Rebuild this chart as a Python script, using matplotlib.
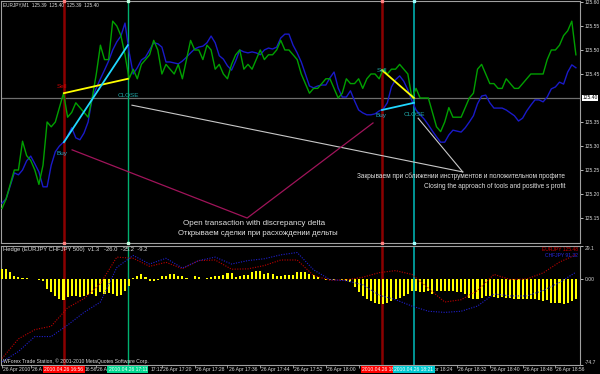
import numpy as np
import matplotlib
matplotlib.use('Agg')
import matplotlib.pyplot as plt
from matplotlib import transforms

plt.rcParams['font.family'] = ['Liberation Sans', 'DejaVu Sans']

# ---------------- data ----------------
eurjpy = [125.17, 125.19, 125.22, 125.25, 125.25, 125.31, 125.28, 125.27, 125.25, 125.22,
          125.26, 125.35, 125.34, 125.35, 125.38, 125.41, 125.36, 125.37, 125.39, 125.38,
          125.37, 125.36, 125.40, 125.45, 125.51, 125.48, 125.48, 125.56, 125.55, 125.53,
          125.49, 125.44, 125.46, 125.44, 125.47, 125.48, 125.49, 125.52, 125.50, 125.45,
          125.47, 125.46, 125.45, 125.47, 125.44, 125.48, 125.52, 125.50, 125.50, 125.48,
          125.51, 125.50, 125.46, 125.47, 125.45, 125.44, 125.47, 125.49, 125.50, 125.46,
          125.47, 125.46, 125.48, 125.50, 125.48, 125.49, 125.49, 125.50, 125.52, 125.50,
          125.50, 125.49, 125.48, 125.45, 125.43, 125.41, 125.42, 125.42, 125.43, 125.44,
          125.44, 125.42, 125.40, 125.41, 125.44, 125.43, 125.43, 125.44, 125.42, 125.44,
          125.45, 125.45, 125.44, 125.46, 125.45, 125.46, 125.46, 125.47, 125.46, 125.45,
          125.40, 125.42, 125.40, 125.40, 125.40, 125.37, 125.34, 125.33, 125.35, 125.38,
          125.36, 125.36, 125.36, 125.38, 125.40, 125.41, 125.46, 125.47, 125.45, 125.43,
          125.43, 125.42, 125.42, 125.44, 125.43, 125.42, 125.42, 125.43, 125.44, 125.45,
          125.45, 125.45, 125.45, 125.48, 125.50, 125.50, 125.51, 125.53, 125.54, 125.56,
          125.49]

chfjpy_scaled = [125.181, 125.190, 125.217, 125.244, 125.240, 125.250, 125.269, 125.279, 125.263, 125.246,
                 125.215, 125.215, 125.260, 125.288, 125.300, 125.308, 125.321, 125.338, 125.317, 125.313,
                 125.327, 125.350, 125.400, 125.421, 125.440, 125.458, 125.477, 125.500, 125.517, 125.529,
                 125.556, 125.496, 125.450, 125.463, 125.479, 125.485, 125.500, 125.515, 125.513, 125.506,
                 125.475, 125.475, 125.473, 125.471, 125.477, 125.485, 125.494, 125.502, 125.506, 125.508,
                 125.515, 125.529, 125.515, 125.488, 125.481, 125.467, 125.458, 125.477, 125.500, 125.496,
                 125.494, 125.496, 125.494, 125.490, 125.500, 125.504, 125.502, 125.506, 125.525, 125.533,
                 125.533, 125.510, 125.494, 125.475, 125.450, 125.425, 125.421, 125.425, 125.427, 125.427,
                 125.442, 125.454, 125.421, 125.402, 125.402, 125.415, 125.394, 125.375, 125.369, 125.365,
                 125.365, 125.367, 125.373, 125.377, 125.390, 125.423, 125.438, 125.446, 125.435, 125.417,
                 125.394, 125.375, 125.365, 125.356, 125.344, 125.331, 125.319, 125.308, 125.308, 125.323,
                 125.333, 125.331, 125.329, 125.338, 125.350, 125.363, 125.388, 125.404, 125.406, 125.390,
                 125.379, 125.379, 125.379, 125.375, 125.369, 125.363, 125.352, 125.358, 125.373, 125.385,
                 125.396, 125.396, 125.392, 125.402, 125.419, 125.423, 125.433, 125.429, 125.454, 125.469,
                 125.463]

hedge_hist = [8.8, 8.5, 5.9, 2.9, 1.5, 0.6, 0.6, 0.3, 0.0, -1.0,
              -1.5, -8.8, -11.0, -14.7, -17.6, -18.2, -15.3, -14.7, -14.7, -15.3,
              -14.7, -14.1, -13.2, -14.7, -11.7, -13.2, -12.3, -13.2, -14.7, -14.1,
              -10.3, -6.5, 0.6, 2.9, 4.4, 2.0, -1.5, -1.5, -0.6, 2.3,
              2.9, 4.4, 4.4, 2.9, 2.3, 0.6, 0.0, 2.9, 1.5, 0.3,
              0.6, 1.5, 2.9, 2.9, 3.5, 5.3, 5.3, 2.0, 2.3, 3.5,
              3.5, 5.9, 7.3, 7.3, 4.4, 5.3, 4.4, 2.9, 2.3, 3.5,
              3.5, 3.5, 5.9, 5.9, 5.9, 4.4, 3.5, 1.5, 0.0, -0.8,
              -0.8, -0.6, 0.0, -0.8, -1.5, -2.9, -7.0, -11.7, -14.7, -17.6,
              -19.1, -20.5, -22.0, -22.0, -20.5, -19.1, -17.6, -16.1, -14.7, -13.2,
              -10.3, -10.3, -11.7, -11.7, -10.3, -13.2, -10.3, -10.3, -10.3, -10.3,
              -10.3, -11.1, -11.7, -13.2, -16.1, -17.6, -17.6, -16.1, -14.7, -14.7,
              -15.3, -16.1, -15.3, -16.1, -16.1, -17.0, -17.6, -17.6, -17.6, -17.6,
              -17.6, -18.2, -19.1, -18.2, -20.5, -20.5, -20.5, -22.0, -20.5, -19.1,
              -17.6]

dot_minutes = list(range(0, 141, 4))
eur_norm = [-69, -52, -44, -41, -25, -17, -4, 19, 18, 11, 14.5, 9, 16, 16.5, 8.5, 8.8, 11.7, 16.5,
            16.5, 3, -1, -0.8, 1.5, 5.5, 7.3, 4, -8, -20, -18, -10, 4, -0.5, 0, 5.3, 14.7, 21]
chf_norm = [-72, -63, -50, -50, -40, -29, -20, 10, 20.5, 13, 18, 9.5, 16, 19, 13, 16, 17.6, 21,
            23, 8, -0.5, -1.5, -5, -14, -18, -23.5, -28, -29, -28, -23.5, -13, -14.7, -14.7, -10, -3, 5.9]

# trade events (minute index from 16:41)
event_times = [15.1, 30.7, 92.7, 100.5]
event_colors = ['#8B0000', '#00B070', '#8B0000', '#00A0A0']
event_widths = [1.8, 1.0, 1.8, 1.3]
event_marker_colors = ['#FF8080', '#C0FFE0', '#FF8080', '#A0FFFF']
box_pos = [15.1, 30.7, 87.9, 100.5]
box_ha = ['center', 'center', 'left', 'center']
box_text = ['2010.04.26 16:56', '2010.04.26 17:11', '2010.04.26 18', '2010.04.26 18:21']
box_colors = ['#FF0000', '#00D890', '#FF0000', '#00C8D0']
sell_lines = [(15.1, 125.41, 30.7, 125.44), (92.7, 125.458, 100.5, 125.40)]
buy_lines = [(15.1, 125.308, 30.7, 125.51), (92.7, 125.375, 100.5, 125.39)]
grey_lines = [[(31.7, 125.385), (112.4, 125.246)], [(101.5, 125.358), (112.4, 125.246)]]
magenta_line = [(17.1, 125.292), (59.8, 125.150), (90.5, 125.348)]

bid = 125.40
price_ticks = [125.15, 125.20, 125.25, 125.30, 125.35, 125.45, 125.50, 125.55, 125.60]
time_tick_pos = [0, 7, 15, 23, 31, 39, 47, 55, 63, 71, 79, 87, 95, 103, 111, 119, 127, 135]
time_label_pos = [0, 7, 20.0, 23, 35.9, 39, 47, 55, 63, 71, 79, 105.1, 111, 119, 127, 135]
time_labels = ['26 Apr 2010', '26 A', '16:56', '26 A', '17:12',
               '26 Apr 17:20', '26 Apr 17:28', '26 Apr 17:36', '26 Apr 17:44', '26 Apr 17:52',
               '26 Apr 18:00', 'pr 18:24', '26 Apr 18:32',
               '26 Apr 18:40', '26 Apr 18:48', '26 Apr 18:56']

# ---------------- figure ----------------
W, H = 600, 374
fig = plt.figure(figsize=(6, 3.74), dpi=100, facecolor='black')


def box(x0, y0, x1, y1):
    return [x0 / W, 1 - y1 / H, (x1 - x0) / W, (y1 - y0) / H]


def ftext(x, y, s, **kw):
    kw.setdefault('fontsize', 4.2)
    kw.setdefault('color', '#E0E0E0')
    kw.setdefault('va', 'center')
    return fig.text(x / W, 1 - y / H, s, **kw)


ax = fig.add_axes(box(1, 1, 580, 243), facecolor='black')
ai = fig.add_axes(box(1, 245.5, 580, 365), facecolor='black')

t = np.arange(len(eurjpy))
for a in (ax, ai):
    a.set_xlim(-0.25, 141)
    for s in a.spines.values():
        s.set_color('#A0A0A0')
        s.set_linewidth(0.8)

# main panel
ax.axhline(bid, color='#6E6E6E', lw=0.9, zorder=1)
ax.plot(t, chfjpy_scaled, color='#1A1AC8', lw=1.0, zorder=3)
ax.plot(t, eurjpy, color='#00A000', lw=1.0, zorder=4)
ax.set_ylim(125.098, 125.602)
ax.yaxis.tick_right()
ax.set_yticks(price_ticks)
ax.set_yticklabels(['%.2f' % p for p in price_ticks])
ax.tick_params(axis='y', labelsize=3.6, colors='#D8D8D8', length=2, width=0.6, pad=1.5)
ax.set_xticks([])
ax.text(1.004, bid, '%.2f' % bid, transform=transforms.blended_transform_factory(ax.transAxes, ax.transData),
        fontsize=3.6, color='black', va='center', ha='left',
        bbox=dict(boxstyle='square,pad=0.15', fc='white', ec='none'))

# annotation trend lines
for gl in grey_lines:
    ax.plot([p[0] for p in gl], [p[1] for p in gl], color='#C8C8C8', lw=0.8, zorder=5)
ax.plot([p[0] for p in magenta_line], [p[1] for p in magenta_line], color='#A0145A', lw=0.9, zorder=5)
for (x0, y0, x1, y1) in sell_lines:
    ax.plot([x0, x1], [y0, y1], color='#FFFF00', lw=1.3, zorder=6)
for (x0, y0, x1, y1) in buy_lines:
    ax.plot([x0, x1], [y0, y1], color='#20D8FF', lw=1.3, zorder=6)

# event verticals
top_tr = transforms.blended_transform_factory(ax.transData, ax.transAxes)
for ev, c, lw, mc in zip(event_times, event_colors, event_widths, event_marker_colors):
    ax.axvline(ev, color=c, lw=lw, zorder=2)
    ai.axvline(ev, color=c, lw=lw, zorder=2)
    ax.plot([ev, ev], [1.0, 0.0], ls='none', marker='s', ms=2, mfc=mc, mec=mc,
            transform=top_tr, clip_on=False, zorder=8)

# indicator panel
ai.bar(t, hedge_hist, width=0.5, color='#FFFF00', zorder=3)
ai.plot(dot_minutes, eur_norm, color='#C00000', lw=0.8, ls=(0, (1, 1.3)), zorder=4)
ai.plot(dot_minutes, chf_norm, color='#2020D0', lw=0.8, ls=(0, (1, 1.3)), zorder=4)
ai.set_ylim(-74.7, 29.1)
ai.yaxis.tick_right()
ai.set_yticks([29.1, 0.0, -74.7])
ai.set_yticklabels(['29.1', '0.00', '-74.7'])
ai.tick_params(axis='y', labelsize=3.6, colors='#D8D8D8', length=2, width=0.6, pad=1.5)
ylabs = ai.get_yticklabels()
ylabs[0].set_va('top')
ylabs[2].set_va('bottom')
ai.set_xticks(time_tick_pos)
ai.set_xticklabels([])
ai.tick_params(axis='x', colors='#B0B0B0', length=2, width=0.6)

# time labels and boxes on the axis
bt = transforms.blended_transform_factory(ai.transData, fig.transFigure)
yl = 1 - 369.5 / H
for p, s in zip(time_label_pos, time_labels):
    ai.text(p + 0.25, yl, s, transform=bt, fontsize=3.6, color='#D8D8D8', ha='left', va='center',
            clip_on=False)
for k, (p, ha, s, fc) in enumerate(zip(box_pos, box_ha, box_text, box_colors)):
    ai.text(p, yl, s, transform=bt, fontsize=3.6, color='white', ha=ha, va='center',
            bbox=dict(boxstyle='square,pad=0.25', fc=fc, ec='none'), zorder=10 + k, clip_on=False)

# texts
ftext(3, 5, 'EURJPY,M1  125.39  125.40  125.39  125.40', fontsize=3.4)
ftext(3, 250, 'Hedge (EURJPY CHFJPY 500)  v1.3   -26.0  -35.2  -9.2', fontsize=4.2)
ftext(578, 249.5, 'EURJPY 125.48', fontsize=3.6, color='#D00000', ha='right')
ftext(578, 255.5, 'CHFJPY 91.32', fontsize=3.6, color='#2828E0', ha='right')
ftext(3, 361, 'WForex Trade Station, \u00a9 2001-2010 MetaQuotes Software Corp.', fontsize=3.6)

ftext(62, 87, 'Sell', color='#D00000', ha='center', fontsize=4.6)
ftext(62, 154, 'Buy', color='#20A8C8', ha='center', fontsize=4.6)
ftext(128, 95.5, 'CLOSE', color='#20A8A8', ha='center', fontsize=4.6)
ftext(382, 70, 'Sell', color='#20A8A8', ha='center', fontsize=4.6)
ftext(381, 116, 'Buy', color='#20A8C8', ha='center', fontsize=4.6)
ftext(414, 114, 'CLOSE', color='#20A8A8', ha='center', fontsize=4.6)

ftext(183, 224, 'Open transaction with discrepancy delta', fontsize=5.8)
ftext(178, 233, 'Открываем сделки при расхождении дельты', fontsize=5.6)
ftext(565, 176, 'Закрываем при сближении инструментов и положительном профите', fontsize=4.7, ha='right')
ftext(565, 186, 'Closing the approach of tools and positive s profit', fontsize=4.7, ha='right')

fig.savefig('out.png', dpi=100, facecolor='black')
